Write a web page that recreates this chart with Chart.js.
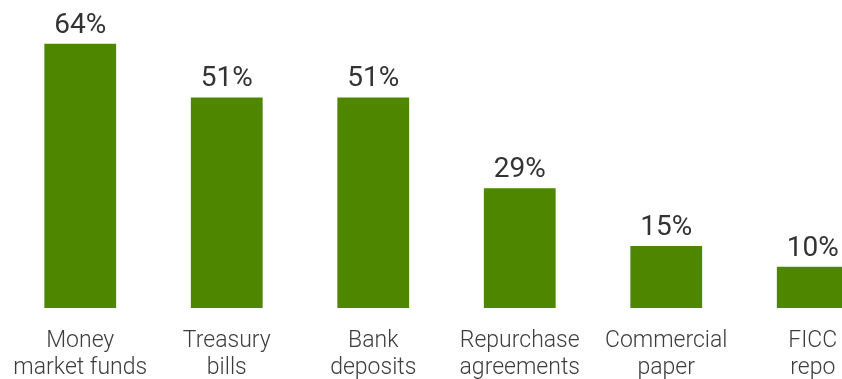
<!DOCTYPE html>
<html>
<head>
<meta charset="utf-8">
<script src="https://cdn.jsdelivr.net/npm/chart.js@4/dist/chart.umd.min.js"></script>
<style>
    html, body { margin: 0; padding: 0; background: #ffffff; overflow: hidden; }
    #wrap { width: 842px; height: 379px; overflow: hidden; }
</style>
</head>
<body>
<div id="wrap">
    <canvas id="fundingChart" width="886" height="379"></canvas>
</div>
<script>
// Share of respondents using each cash investment
const categories = [
    ['Money', 'market funds'],
    ['Treasury', 'bills'],
    ['Bank', 'deposits'],
    ['Repurchase', 'agreements'],
    ['Commercial', 'paper'],
    ['FICC', 'repo']
];
const shares = [64, 51, 51, 29, 15, 10];

const BAR_COLOR = '#4e8600';

// Draw the percentage above each bar
const valueLabels = {
    id: 'valueLabels',
    afterDatasetsDraw(chart) {
        const ctx = chart.ctx;
        const meta = chart.getDatasetMeta(0);
        ctx.save();
        ctx.font = '400 28px Roboto';
        ctx.fillStyle = '#333333';
        ctx.textAlign = 'center';
        ctx.textBaseline = 'alphabetic';
        meta.data.forEach((bar, i) => {
            ctx.fillText(shares[i] + '%', bar.x, bar.y - 11);
        });
        ctx.restore();
    }
};

const ctx = document.getElementById('fundingChart').getContext('2d');
new Chart(ctx, {
    type: 'bar',
    data: {
        labels: categories,
        datasets: [{
            data: shares,
            backgroundColor: BAR_COLOR,
            borderWidth: 0,
            barPercentage: 0.49,
            categoryPercentage: 1
        }]
    },
    options: {
        responsive: false,
        animation: false,
        layout: { padding: { top: 19, left: 7, right: 0, bottom: 0 } },
        plugins: {
            legend: { display: false },
            tooltip: { enabled: false }
        },
        scales: {
            x: {
                grid: { display: false, drawTicks: false },
                border: { display: false },
                ticks: {
                    color: '#3d3d3d',
                    padding: 20,
                    maxRotation: 0,
                    autoSkip: false,
                    font: { family: 'Roboto', weight: '300', size: 23, lineHeight: 1.17 }
                },
                afterFit(scale) {
                    // keep the wide labels from pushing the plot area inwards
                    scale.height = 71;
                    scale.paddingLeft = 0;
                    scale.paddingRight = 0;
                }
            },
            y: {
                display: false,
                min: 0,
                max: 70
            }
        }
    },
    plugins: [valueLabels]
});
</script>
</body>
</html>
